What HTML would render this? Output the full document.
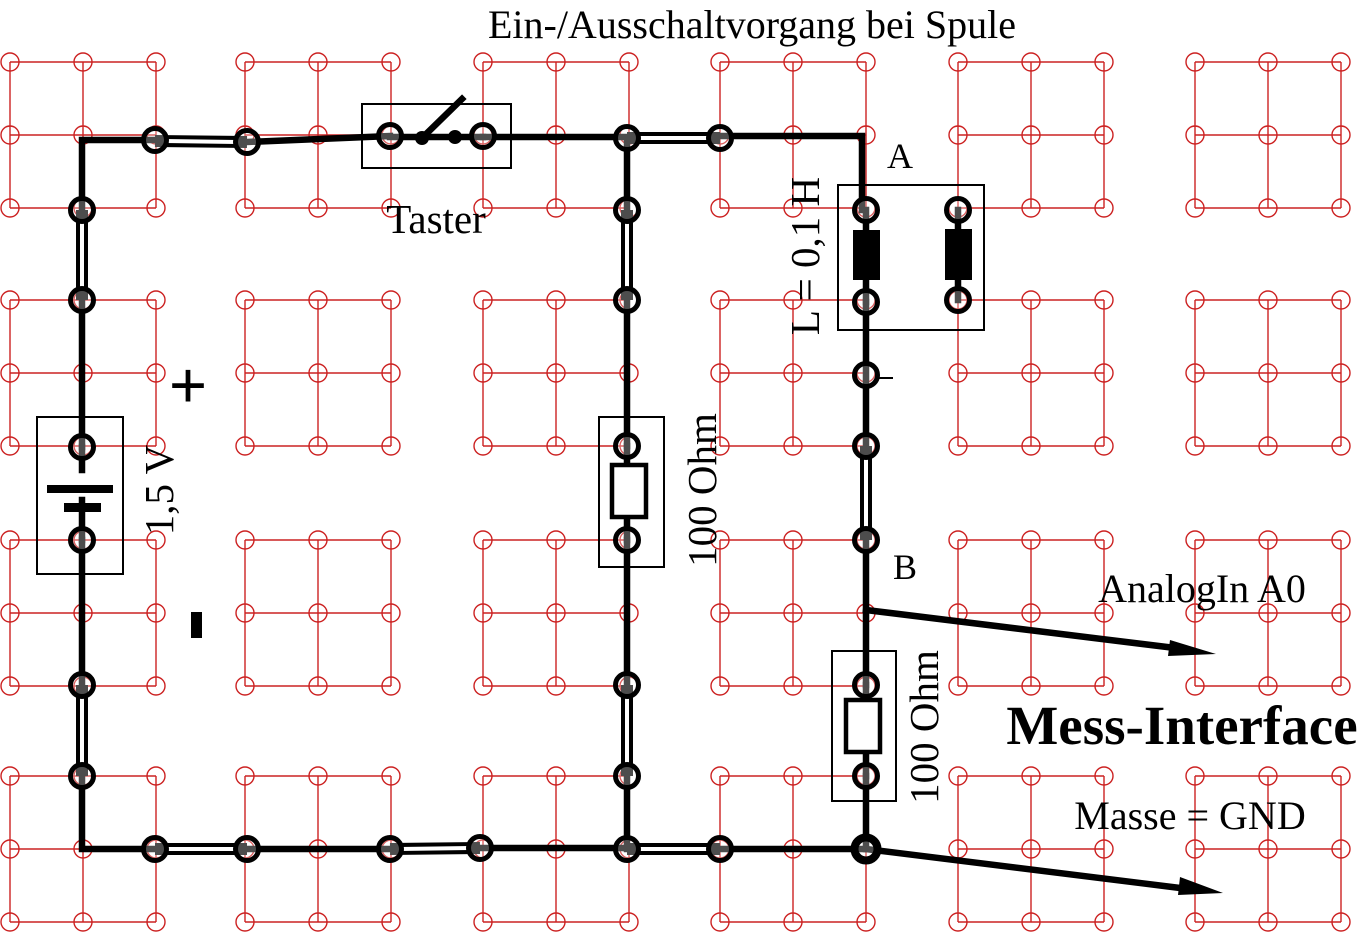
<!DOCTYPE html>
<html><head><meta charset="utf-8"><style>
html,body{margin:0;padding:0;background:#fff;}
svg{display:block;}
text{font-family:"Liberation Serif",serif;fill:#000;}
</style></head><body>
<svg width="1358" height="932" viewBox="0 0 1358 932" xmlns="http://www.w3.org/2000/svg">
<defs>
<g id="blk" stroke="#cc2222" stroke-width="1.4" fill="none">
<path d="M0 0H146M0 73H146M0 146H146M0 0V146M73 0V146M146 0V146"/>
<circle cx="0" cy="0" r="9"/><circle cx="73" cy="0" r="9"/><circle cx="146" cy="0" r="9"/>
<circle cx="0" cy="73" r="9"/><circle cx="73" cy="73" r="9"/><circle cx="146" cy="73" r="9"/>
<circle cx="0" cy="146" r="9"/><circle cx="73" cy="146" r="9"/><circle cx="146" cy="146" r="9"/>
</g>
</defs>
<g>
<use href="#blk" x="10" y="62"/><use href="#blk" x="245" y="62"/><use href="#blk" x="483" y="62"/><use href="#blk" x="720" y="62"/><use href="#blk" x="958" y="62"/><use href="#blk" x="1195" y="62"/>
<use href="#blk" x="10" y="300"/><use href="#blk" x="245" y="300"/><use href="#blk" x="483" y="300"/><use href="#blk" x="720" y="300"/><use href="#blk" x="958" y="300"/><use href="#blk" x="1195" y="300"/>
<use href="#blk" x="10" y="540"/><use href="#blk" x="245" y="540"/><use href="#blk" x="483" y="540"/><use href="#blk" x="720" y="540"/><use href="#blk" x="958" y="540"/><use href="#blk" x="1195" y="540"/>
<use href="#blk" x="10" y="776"/><use href="#blk" x="245" y="776"/><use href="#blk" x="483" y="776"/><use href="#blk" x="720" y="776"/><use href="#blk" x="958" y="776"/><use href="#blk" x="1195" y="776"/>
</g>

<g fill="none" stroke="#000" stroke-width="2">
<rect x="362" y="104" width="149" height="64"/>
<rect x="37" y="417" width="86" height="157"/>
<rect x="599" y="417" width="65" height="150"/>
<rect x="838" y="185" width="146" height="145"/>
<rect x="832" y="651" width="64" height="150"/>
</g>

<g stroke="#000" stroke-width="6.5" fill="none" stroke-linecap="square">
<path d="M82 210V140H155"/>
<path d="M247 142L390 136"/>
<path d="M483 137H627"/>
<path d="M720 136H862V210"/>
<path d="M82 300V447"/>
<path d="M82 540V685"/>
<path d="M82 776V849H155"/>
<path d="M247 849H390"/>
<path d="M480 848H627"/>
<path d="M720 849H866"/>
<path d="M627 138V210"/>
<path d="M627 300V446"/>
<path d="M627 540V685"/>
<path d="M627 776V849"/>
<path d="M866 302V446"/>
<path d="M866 540V685"/>
<path d="M866 776V849"/>
<path d="M866 610L1175 648"/>
<path d="M866 849L1180 888"/>
<path d="M390 137H483"/>
<path d="M422 138L462 99"/>
<path d="M82 447V470M82 500V540"/>
<path d="M627 446V465M627 517V540"/>
<path d="M866 685V700M866 752V776"/>
<path d="M866 210V302M958 210V300"/>
</g>
<polygon points="1216,654 1170,640 1168,656" fill="#000"/>
<polygon points="1223,893 1180,877 1178,895" fill="#000"/>

<g fill="none" stroke-linecap="butt">
<g stroke="#000" stroke-width="12">
<path d="M155 141L247 142"/><path d="M627 138H720"/>
<path d="M82 210V300"/><path d="M82 685V776"/>
<path d="M627 210V300"/><path d="M627 685V776"/>
<path d="M866 446V540"/>
<path d="M155 849H247"/><path d="M390 849L480 848"/><path d="M627 849H720"/>
</g>
<g stroke="#fff" stroke-width="4">
<path d="M165 141L237 142"/><path d="M637 138H710"/>
<path d="M82 220V290"/><path d="M82 695V766"/>
<path d="M627 220V290"/><path d="M627 695V766"/>
<path d="M866 456V530"/>
<path d="M165 849H237"/><path d="M400 849L470 848"/><path d="M637 849H710"/>
</g>
</g>

<g fill="#000">
<rect x="47" y="485" width="66" height="8"/>
<rect x="64" y="503" width="37" height="9"/>
<rect x="853" y="230" width="27" height="50"/>
<rect x="945" y="229" width="27" height="51"/>
<circle cx="422" cy="138" r="7"/><circle cx="455" cy="137" r="7"/>
</g>
<g fill="#fff" stroke="#000" stroke-width="4.5">
<rect x="612" y="465" width="34" height="52"/>
<rect x="846" y="700" width="34" height="52"/>
</g>

<g fill="#fff" fill-opacity="0.3" stroke="#000" stroke-width="5">
<circle cx="155" cy="140" r="11.5"/><circle cx="247" cy="142" r="11.5"/>
<circle cx="390" cy="136" r="11.5"/><circle cx="483" cy="136" r="11.5"/>
<circle cx="627" cy="138" r="11.5"/><circle cx="720" cy="138" r="11.5"/>
<circle cx="82" cy="210" r="11.5"/><circle cx="82" cy="300" r="11.5"/><circle cx="82" cy="447" r="11.5"/><circle cx="82" cy="540" r="11.5"/><circle cx="82" cy="685" r="11.5"/><circle cx="82" cy="776" r="11.5"/>
<circle cx="627" cy="210" r="11.5"/><circle cx="627" cy="300" r="11.5"/><circle cx="627" cy="446" r="11.5"/><circle cx="627" cy="540" r="11.5"/><circle cx="627" cy="685" r="11.5"/><circle cx="627" cy="776" r="11.5"/><circle cx="627" cy="849" r="11.5"/>
<circle cx="866" cy="210" r="11.5"/><circle cx="866" cy="302" r="11.5"/><circle cx="958" cy="210" r="11.5"/><circle cx="958" cy="300" r="11.5"/>
<circle cx="866" cy="375" r="11.5"/><circle cx="866" cy="446" r="11.5"/><circle cx="866" cy="540" r="11.5"/>
<circle cx="866" cy="685" r="11.5"/><circle cx="866" cy="776" r="11.5"/>
<circle cx="155" cy="849" r="11.5"/><circle cx="247" cy="849" r="11.5"/><circle cx="390" cy="849" r="11.5"/><circle cx="480" cy="848" r="11.5"/><circle cx="720" cy="849" r="11.5"/>
<circle cx="866" cy="849" r="11.5" stroke-width="8"/>
</g>
<path d="M876 378H893" stroke="#000" stroke-width="2"/>

<text x="752" y="38" font-size="40" text-anchor="middle">Ein-/Ausschaltvorgang bei Spule</text>
<text x="436" y="233" font-size="41" text-anchor="middle">Taster</text>
<text x="188" y="408" font-size="68" font-weight="bold" text-anchor="middle">+</text>
<rect x="191" y="612" width="11" height="26" fill="#000"/>
<text x="900" y="168" font-size="36" text-anchor="middle">A</text>
<text x="905" y="579" font-size="36" text-anchor="middle">B</text>
<text transform="translate(173,490) rotate(-90)" font-size="41" text-anchor="middle">1,5 V</text>
<text transform="translate(716,490) rotate(-90)" font-size="41" text-anchor="middle">100 Ohm</text>
<text transform="translate(819,256) rotate(-90)" font-size="41" text-anchor="middle">L = 0,1 H</text>
<text transform="translate(938,727) rotate(-90)" font-size="41" text-anchor="middle">100 Ohm</text>
<text x="1202" y="602" font-size="40" text-anchor="middle">AnalogIn A0</text>
<text x="1182" y="744" font-size="55" font-weight="bold" text-anchor="middle">Mess-Interface</text>
<text x="1190" y="829" font-size="40" text-anchor="middle">Masse = GND</text>
</svg>
</body></html>
